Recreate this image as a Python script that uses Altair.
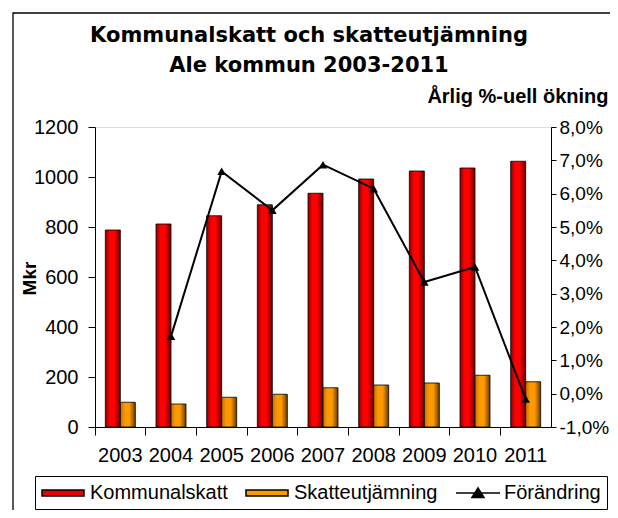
import altair as alt
import pandas as pd

# ---- data ----
years = ["2003", "2004", "2005", "2006", "2007", "2008", "2009", "2010", "2011"]
kommunalskatt = [788, 812, 845, 889, 935, 992, 1024, 1036, 1063]
skatteutjamning = [99, 92, 119, 131, 157, 168, 176, 207, 181]
forandring = [None, 1.72, 6.67, 5.50, 6.87, 6.15, 3.35, 3.80, -0.16]
series_names = ["Kommunalskatt", "Skatteutjämning", "Förändring"]
left_ticks = [0, 200, 400, 600, 800, 1000, 1200]
right_ticks = [-1, 0, 1, 2, 3, 4, 5, 6, 7, 8]

FONT = "Liberation Sans"

bars_df = pd.DataFrame({
    "year": years + years,
    "series": [series_names[0]] * len(years) + [series_names[1]] * len(years),
    "value": kommunalskatt + skatteutjamning,
})
line_df = pd.DataFrame({"year": years, "series": series_names[2], "pct": forandring}).dropna()

x_enc = alt.X(
    "year:O",
    scale=alt.Scale(paddingInner=0, paddingOuter=0),
    axis=alt.Axis(
        title=None, labelAngle=0, labelFontSize=20, labelFont=FONT, labelColor="black",
        domainColor="black", tickColor="black", tickSize=8, bandPosition=0,
        labelPadding=10, grid=False, zindex=1,
    ),
)
xoff_enc = alt.XOffset(
    "series:N",
    scale=alt.Scale(domain=series_names[:2], paddingInner=0, paddingOuter=0.69),
)
y_left = alt.Y(
    "value:Q",
    scale=alt.Scale(domain=[0, 1200], nice=False),
    axis=alt.Axis(
        values=left_ticks, format="d", title="Mkr", grid=False, labelFontSize=20,
        labelFont=FONT, labelColor="black", domainColor="black", tickColor="black",
        tickSize=7, labelPadding=10, titleFont=FONT, titleFontSize=19,
        titleFontWeight="bold", titleColor="black", titleAngle=270, titleX=-66,
        titleY=151, titleAlign="center", titleBaseline="middle", zindex=1,
    ),
)

def grad(c_left, c_mid, c_right):
    return alt.LinearGradient(
        gradient="linear", x1=0, x2=1, y1=0, y2=0,
        stops=[
            alt.GradientStop(offset=0, color=c_left),
            alt.GradientStop(offset=0.3, color=c_mid),
            alt.GradientStop(offset=0.6, color=c_mid),
            alt.GradientStop(offset=1, color=c_right),
        ],
    )

base_bars = alt.Chart(bars_df)
red_bars = base_bars.mark_bar(
    fill=grad("#8c0000", "#ff0000", "#6a0000"), stroke="black", strokeWidth=0.8
).encode(x=x_enc, xOffset=xoff_enc, y=y_left).transform_filter(
    alt.datum.series == series_names[0]
)
orange_bars = base_bars.mark_bar(
    fill=grad("#c07000", "#ff9900", "#6a3c00"), stroke="black", strokeWidth=0.8
).encode(x=x_enc, xOffset=xoff_enc, y=y_left).transform_filter(
    alt.datum.series == series_names[1]
)
bars = alt.layer(red_bars, orange_bars)

y_right = alt.Y(
    "pct:Q",
    scale=alt.Scale(domain=[-1, 8], nice=False),
    axis=alt.Axis(
        orient="right", values=right_ticks, grid=False, labelFontSize=19, labelFont=FONT,
        labelColor="black", domainColor="black", tickColor="black", tickSize=5,
        labelPadding=3,
        labelExpr="replace(replace(format(datum.value, '.1f'), '.', ','), '\u2212', '-') + '%'",
        title="Årlig %-uell ökning", titleFont=FONT, titleFontSize=20,
        titleFontWeight="bold", titleColor="black", titleAngle=0, titleAlign="right",
        titleBaseline="alphabetic", titleX=57, titleY=-25, zindex=1,
    ),
)

line_base = alt.Chart(line_df)
line = line_base.mark_line(strokeWidth=2, color="black").encode(x=x_enc, y=y_right)
points = line_base.mark_point(
    shape="triangle-up", filled=True, size=75, color="black", opacity=1
).encode(x=x_enc, y=y_right)
line_layer = alt.layer(line, points)

# legend-only layer: no rows are drawn, the legend comes from the scales' domains
swatch = "M-1,-0.3H3.2V0.3H-1Z"
line_sym = "M-1,0H3.4M0.6,0.45L1.2,-0.5L1.8,0.45Z"
legend = alt.Legend(
    title=None, orient="none", legendX=-60, legendY=349, direction="horizontal",
    strokeColor="black", fillColor="white", padding=6, cornerRadius=0,
    symbolSize=400, labelFontSize=20, labelFont=FONT, labelColor="black",
    labelOffset=27, columnPadding=15, symbolStrokeWidth=1.5, symbolOpacity=1,
)
legend_layer = alt.Chart(line_df).mark_point(filled=True, opacity=1).encode(
    fill=alt.Fill(
        "series:N",
        scale=alt.Scale(domain=series_names, range=["#ee0000", "#ff9900", "black"]),
        legend=legend,
    ),
    stroke=alt.Stroke(
        "series:N",
        scale=alt.Scale(domain=series_names, range=["black", "black", "black"]),
        legend=legend,
    ),
    shape=alt.Shape(
        "series:N",
        scale=alt.Scale(domain=series_names, range=[swatch, swatch, line_sym]),
        legend=legend,
    ),
).transform_filter("false")

frame = alt.Chart(pd.DataFrame({"f": [0]})).mark_rect(
    fill="transparent", stroke="black", strokeWidth=1.3, clip=False
).encode(
    x=alt.value(-82), x2=alt.value(700), y=alt.value(-114), y2=alt.value(600)
)

chart = alt.layer(frame, bars, line_layer, legend_layer).resolve_scale(
    y="independent"
).properties(
    width=456,
    height=300,
    padding={"left": 87, "top": 119, "right": 59, "bottom": 83},
    autosize=alt.AutoSizeParams(type="none"),
    title=alt.Title(
        ["Kommunalskatt och skatteutjämning", "Ale kommun 2003-2011"],
        font="DejaVu Sans", fontSize=21, fontWeight="bold", color="black",
        anchor="middle", frame="group", dx=-14, dy=89, lineHeight=30, offset=8,
        baseline="alphabetic",
    ),
).configure_view(
    stroke="#999999", strokeWidth=1
).configure(
    font=FONT, background="white"
)

chart.save("out.html", embed_options={"renderer": "svg", "actions": False})
